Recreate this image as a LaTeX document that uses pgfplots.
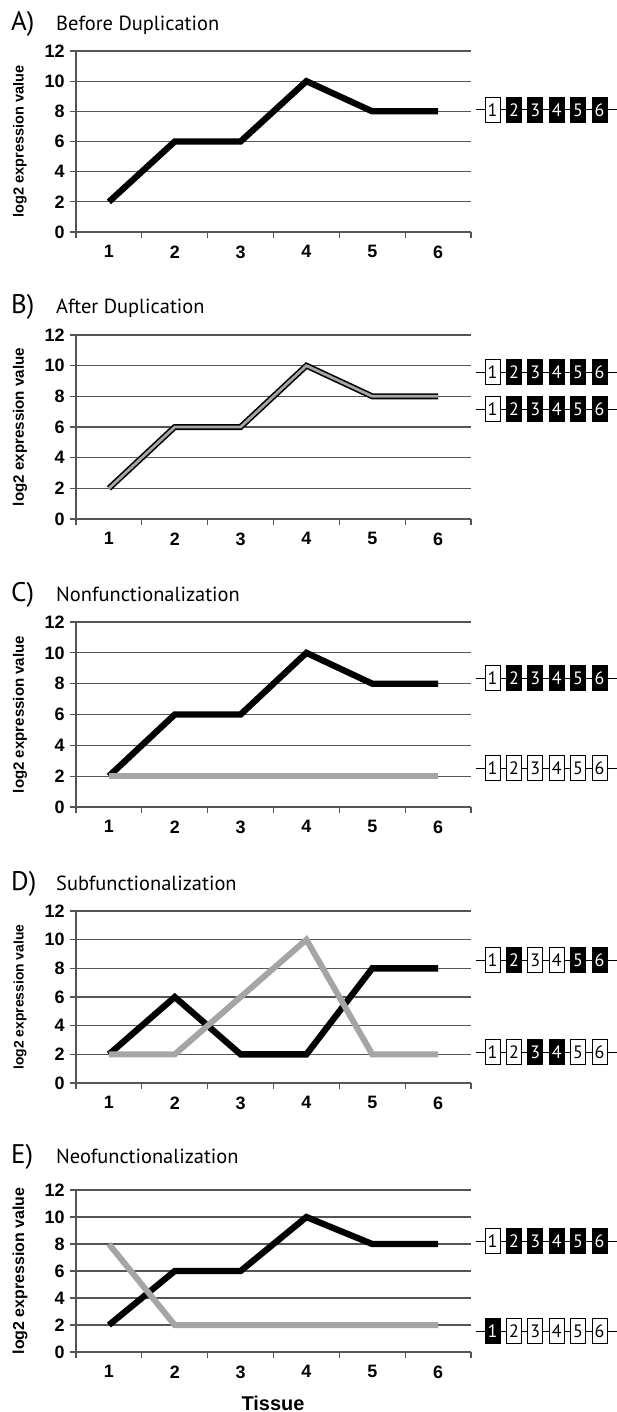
\documentclass[border=0pt]{standalone}
\usepackage{pgfplots}
\pgfplotsset{compat=1.18}
\usepackage{fontspec}
\setmainfont{Liberation Sans}
\newfontfamily\titlefont{PT Sans}
\definecolor{lgray}{RGB}{165,165,165}
\definecolor{gridc}{RGB}{85,85,85}

\pgfplotsset{
  panel/.style={
    scale only axis, width=395bp,
    xmin=0.5, xmax=6.5, ymin=0, ymax=12,
    axis x line*=bottom, axis y line*=left,
    axis line style={draw=gridc, line width=1.3bp},
    xtick={0.5,1.5,...,6.5}, xticklabels={},
    extra x ticks={1,2,3,4,5,6},
    extra x tick style={major tick length=0pt, tick style={draw=none}},
    ytick={0,2,...,12},
    tick align=outside,
    major tick length=6bp,
    tick style={draw=gridc, line width=1.3bp},
    ymajorgrids, major grid style={draw=gridc, line width=1.3bp},
    /pgf/number format/assume math mode=true,
    tick label style={font=\bfseries\fontsize{18}{18}\selectfont},
    xticklabel style={yshift=-10bp},
    yticklabel style={xshift=-2bp},
    every axis y label/.style={at={(axis description cs:-0.1418,0.5)}, rotate=90, anchor=center},
    ylabel={log2 expression value},
    clip=false,
    anchor=south west,
  },
  blk/.style={black, line width=6.3bp, no markers},
  gry/.style={lgray, line width=6bp, no markers},
}
\tikzset{
  genebox/.style={draw=black, line width=0.9bp, minimum width=15bp, minimum height=25bp, inner sep=0pt, font=\titlefont\fontsize{18}{18}\selectfont},
}

\newcommand{\generow}[2]{%
  \draw[line width=1bp] (476,-#1) -- (617,-#1);
  \foreach \b [count=\k] in {#2} {%
    \ifnum\b=1
      \node[genebox, fill=black, text=white] at ({492.5+21.4*(\k-1)},-#1) {\k};
    \else
      \node[genebox, fill=white, text=black] at ({492.5+21.4*(\k-1)},-#1) {\k};
    \fi
  }%
}
\newcommand{\paneltitle}[3]{%
  \node[anchor=base west, inner sep=0pt, font=\titlefont\fontsize{27}{27}\selectfont] at (11,-#1) {#2};
  \node[anchor=base west, inner sep=0pt, font=\titlefont\fontsize{20.5}{21}\selectfont] at (56,-#1) {#3};
}

\begin{document}
\begin{tikzpicture}[x=1bp,y=1bp]
\useasboundingbox (0,0) rectangle (617,-1412);

% ---------- A ----------
\paneltitle{31}{A)}{Before Duplication}
\begin{axis}[panel, at={(76bp,-232bp)}, height=181bp,
  ylabel style={font=\bfseries\fontsize{14.6}{15}\selectfont}]
\addplot[blk] coordinates {(1,2)(2,6)(3,6)(4,10)(5,8)(6,8)};
\end{axis}
\generow{110}{0,1,1,1,1,1}

% ---------- B ----------
\paneltitle{313}{B)}{After Duplication}
\begin{axis}[panel, at={(76bp,-519bp)}, height=184bp,
  ylabel style={font=\bfseries\fontsize{15.2}{16}\selectfont}]
\addplot[black, line width=6bp, no markers] coordinates {(1,2)(2,6)(3,6)(4,10)(5,8)(6,8)};
\addplot[lgray, line width=2.8bp, no markers] coordinates {(1,2)(2,6)(3,6)(4,10)(5,8)(6,8)};
\end{axis}
\generow{372}{0,1,1,1,1,1}
\generow{409}{0,1,1,1,1,1}

% ---------- C ----------
\paneltitle{601}{C)}{Nonfunctionalization}
\begin{axis}[panel, at={(76bp,-807bp)}, height=185bp,
  ylabel style={font=\bfseries\fontsize{15.1}{16}\selectfont}]
\addplot[blk] coordinates {(1,2)(2,6)(3,6)(4,10)(5,8)(6,8)};
\addplot[gry] coordinates {(1,2)(2,2)(3,2)(4,2)(5,2)(6,2)};
\end{axis}
\generow{678}{0,1,1,1,1,1}
\generow{768}{0,0,0,0,0,0}

% ---------- D ----------
\paneltitle{890}{D)}{Subfunctionalization}
\begin{axis}[panel, at={(76bp,-1083bp)}, height=172bp,
  ylabel style={font=\bfseries\fontsize{13.9}{15}\selectfont}]
\addplot[blk] coordinates {(1,2)(2,6)(3,2)(4,2)(5,8)(6,8)};
\addplot[gry] coordinates {(1,2)(2,2)(3,6)(4,10)(5,2)(6,2)};
\end{axis}
\generow{960}{0,1,0,0,1,1}
\generow{1052}{0,0,1,1,0,0}

% ---------- E ----------
\paneltitle{1163}{E)}{Neofunctionalization}
\begin{axis}[panel, at={(76bp,-1352bp)}, height=162bp,
  ylabel style={font=\bfseries\fontsize{16}{17}\selectfont}]
\addplot[blk] coordinates {(1,2)(2,6)(3,6)(4,10)(5,8)(6,8)};
\addplot[gry] coordinates {(1,8)(2,2)(3,2)(4,2)(5,2)(6,2)};
\end{axis}
\generow{1241}{0,1,1,1,1,1}
\generow{1331}{1,0,0,0,0,0}
\node[font=\bfseries\fontsize{20}{20}\selectfont, inner sep=0pt] at (273,-1403) {Tissue};
\end{tikzpicture}
\end{document}
